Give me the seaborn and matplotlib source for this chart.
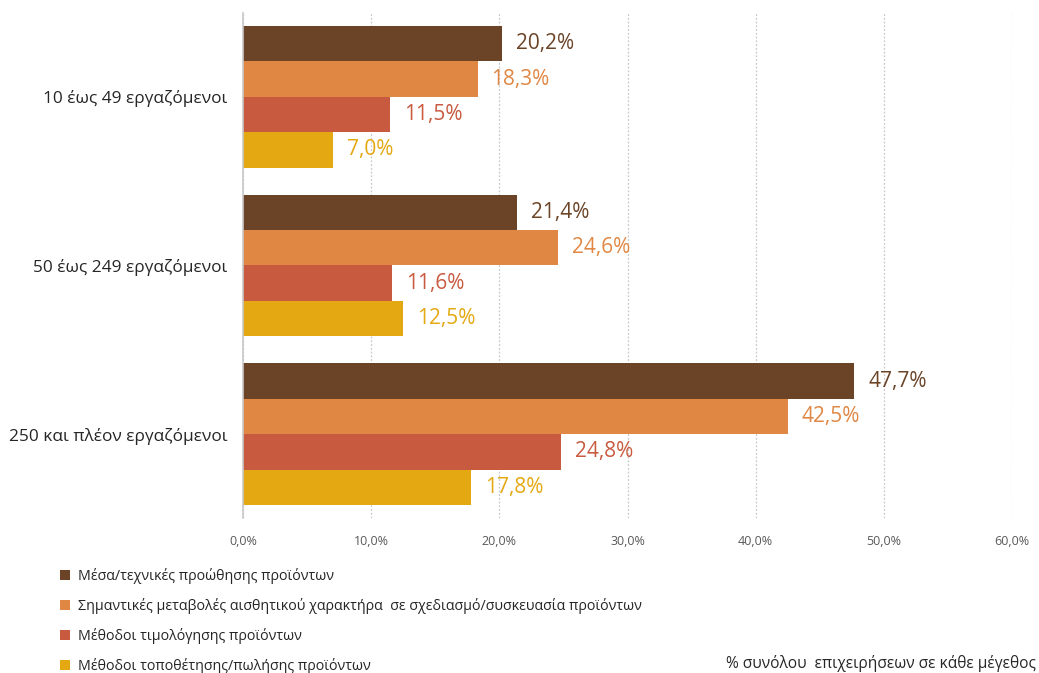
import matplotlib
matplotlib.use("Agg")
import matplotlib.pyplot as plt
from matplotlib.patches import Patch
from matplotlib.ticker import FuncFormatter, MultipleLocator
import seaborn as sns
import pandas as pd

# Enterprise size classes (y categories)
sizes = ["10 έως 49 εργαζόμενοι", "50 έως 249 εργαζόμενοι", "250 και πλέον εργαζόμενοι"]

# Marketing innovation types (series)
series = [
    "Μέσα/τεχνικές προώθησης προϊόντων",
    "Σημαντικές μεταβολές αισθητικού χαρακτήρα  σε σχεδιασμό/συσκευασία προϊόντων",
    "Μέθοδοι τιμολόγησης προϊόντων",
    "Μέθοδοι τοποθέτησης/πωλήσης προϊόντων",
]

# Share of enterprises (%) per size class
promotion = [20.2, 21.4, 47.7]
design = [18.3, 24.6, 42.5]
pricing = [11.5, 11.6, 24.8]
placement = [7.0, 12.5, 17.8]

colors = ["#6B4428", "#E08744", "#C85A40", "#E4A812"]

rows = []
for name, vals in zip(series, [promotion, design, pricing, placement]):
    for size, v in zip(sizes, vals):
        rows.append({"size": size, "series": name, "value": v})
df = pd.DataFrame(rows)

sns.set_style("white")
plt.rcParams["font.family"] = ["Open Sans", "DejaVu Sans"]

fig = plt.figure(figsize=(10.39, 6.73), dpi=100)
ax = fig.add_axes([0.2339, 0.2296, 0.7401, 0.7518])

sns.barplot(
    data=df, y="size", x="value", hue="series", order=sizes, hue_order=series,
    palette=colors, orient="h", width=0.84, saturation=1, ax=ax, legend=False,
    linewidth=0, edgecolor="none",
)

ax.set_xlim(0, 60)
ax.set_ylim(2.5, -0.5)
ax.xaxis.set_major_locator(MultipleLocator(10))
ax.xaxis.set_major_formatter(FuncFormatter(lambda v, p: f"{v:.1f}%".replace(".", ",")))
ax.grid(axis="x", color="#C8C8C8", linestyle=(0, (1.5, 1.5)), linewidth=0.9)
ax.grid(axis="y", visible=False)
ax.set_axisbelow(True)
for s in ["top", "right", "bottom"]:
    ax.spines[s].set_visible(False)
ax.spines["left"].set_color("#C8C8C8")
ax.spines["left"].set_linewidth(1.2)
ax.tick_params(axis="x", labelsize=9, colors="#595959", length=0, pad=12)
ax.tick_params(axis="y", labelsize=12.4, colors="#262626", length=0, pad=11)
ax.set_xlabel("")
ax.set_ylabel("")

for cont, col in zip(ax.containers, colors):
    ax.bar_label(
        cont, labels=[f"{b.get_width():.1f}%".replace(".", ",") for b in cont],
        padding=10, color=col, fontsize=15,
    )

handles = [Patch(facecolor=c, edgecolor="none") for c in colors]
fig.legend(
    handles, series, loc="upper left", bbox_to_anchor=(0.052, 0.164),
    frameon=False, fontsize=10.3, handlelength=0.7, handleheight=0.7,
    handletextpad=0.6, labelspacing=0.96, borderaxespad=0,
)

fig.text(0.9975, 0.002, "% συνόλου  επιχειρήσεων σε κάθε μέγεθος",
         ha="right", va="bottom", fontsize=11.2, color="#262626")

fig.savefig("out.png", dpi=100)
